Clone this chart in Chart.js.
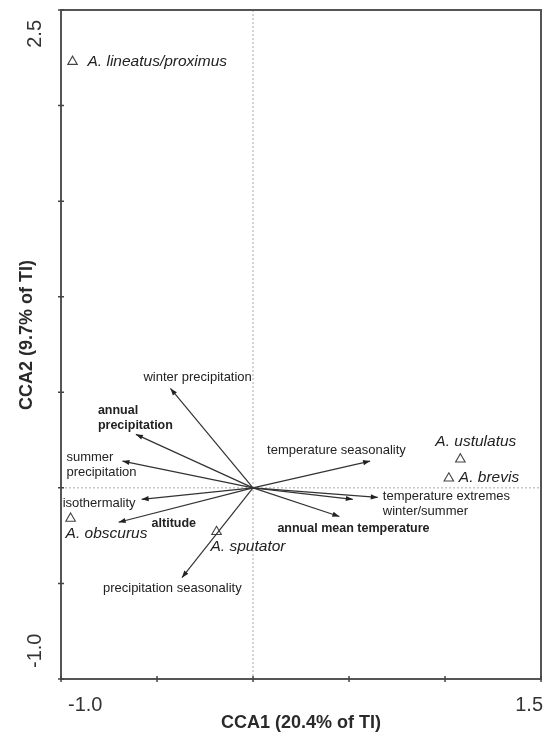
<!DOCTYPE html>
<html>
<head>
<meta charset="utf-8">
<script src="https://cdn.jsdelivr.net/npm/chart.js@4.4.1/dist/chart.umd.min.js"></script>
<style>
  html, body { margin: 0; padding: 0; background: #fff; }
  #wrap { width: 553px; height: 736px; }
</style>
</head>
<body>
<div id="wrap"><canvas id="cca"></canvas></div>
<script>
// --- data ---
const speciesNames = ['A. lineatus/proximus', 'A. obscurus', 'A. sputator', 'A. ustulatus', 'A. brevis'];
const speciesX = [-0.94, -0.95, -0.19, 1.08, 1.02];
const speciesY = [2.23, -0.16, -0.23, 0.15, 0.05];

const vectorNames = [
  ['winter precipitation'],
  ['annual', 'precipitation'],
  ['summer', 'precipitation'],
  ['isothermality'],
  ['altitude'],
  ['precipitation seasonality'],
  ['temperature seasonality'],
  ['temperature extremes', 'winter/summer'],
  [],
  ['annual mean temperature']
];
const vectorX = [-0.43, -0.61, -0.68, -0.58, -0.70, -0.37, 0.61, 0.65, 0.52, 0.45];
const vectorY = [0.52, 0.28, 0.14, -0.06, -0.18, -0.47, 0.14, -0.05, -0.06, -0.15];
const vectorBold = [false, true, false, false, true, false, false, false, false, true];

const xTicks = [-1.0, -0.5, 0, 0.5, 1.0, 1.5];
const yTicks = [-1.0, -0.5, 0, 0.5, 1.0, 1.5, 2.0, 2.5];
const xTickLabels = ['-1.0', '', '', '', '', '1.5'];
const yTickLabels = ['-1.0', '', '', '', '', '', '', '2.5'];
const xTitle = 'CCA1 (20.4% of TI)';
const yTitle = 'CCA2 (9.7% of TI)';

// label placement (pixel offsets from the mark)
const vectorLabelOffsets = [[-27, -11], [-38, -24], [-56, -4], [-79, 4], [33, 1], [-79, 11], [-103, -11], [5, -1], [0, 0], [-62, 12]];
const speciesLabelOffsets = [[15, 0], [-5, 15], [-6, 15], [-25, -17], [10, -1]];

const FONT = '"Liberation Sans", Arial, sans-serif';
const INK = '#222';

// one line dataset per environmental vector, from the origin to the tip
const vectorSets = vectorX.map((x, i) => ({
  type: 'line',
  data: [{ x: 0, y: 0 }, { x: x, y: vectorY[i] }],
  borderColor: '#333',
  borderWidth: 1.2,
  pointRadius: 0,
  fill: false
}));

const speciesSet = {
  type: 'scatter',
  data: speciesX.map((x, i) => ({ x: x, y: speciesY[i] })),
  pointStyle: 'triangle',
  pointRadius: 5.5,
  backgroundColor: '#fff',
  borderColor: '#444',
  borderWidth: 1.1
};

// frame, ticks, zero lines, arrowheads and text
const decorations = {
  id: 'decorations',
  beforeDatasetsDraw(chart) {
    const { ctx, chartArea: a, scales: { x, y } } = chart;
    ctx.save();
    ctx.strokeStyle = '#aaa';
    ctx.lineWidth = 1;
    ctx.setLineDash([2, 2]);
    const x0 = x.getPixelForValue(0), y0 = y.getPixelForValue(0);
    ctx.beginPath();
    ctx.moveTo(x0, a.top); ctx.lineTo(x0, a.bottom);
    ctx.moveTo(a.left, y0); ctx.lineTo(a.right, y0);
    ctx.stroke();
    ctx.restore();
  },
  afterDraw(chart) {
    const { ctx, chartArea: a, scales: { x, y } } = chart;
    ctx.save();

    // frame
    ctx.strokeStyle = '#555';
    ctx.lineWidth = 2;
    ctx.strokeRect(a.left, a.top, a.right - a.left, a.bottom - a.top);

    // tick marks crossing the axes
    ctx.lineWidth = 1.5;
    ctx.strokeStyle = '#444';
    ctx.beginPath();
    xTicks.forEach(v => {
      const px = x.getPixelForValue(v);
      ctx.moveTo(px, a.bottom - 3); ctx.lineTo(px, a.bottom + 3);
    });
    yTicks.forEach(v => {
      const py = y.getPixelForValue(v);
      ctx.moveTo(a.left - 3, py); ctx.lineTo(a.left + 3, py);
    });
    ctx.stroke();

    // tick labels (pulled inward like the original)
    ctx.fillStyle = '#333';
    ctx.font = '20px ' + FONT;
    ctx.textBaseline = 'middle';
    xTickLabels.forEach((t, i) => {
      if (!t) return;
      const px = x.getPixelForValue(xTicks[i]);
      ctx.textAlign = i === 0 ? 'left' : 'right';
      ctx.fillText(t, i === 0 ? px + 7 : px + 2, a.bottom + 26);
    });
    yTickLabels.forEach((t, i) => {
      if (!t) return;
      const py = y.getPixelForValue(yTicks[i]);
      ctx.save();
      ctx.translate(a.left - 26, i === 0 ? py - 11 : py + 10);
      ctx.rotate(-Math.PI / 2);
      ctx.textAlign = i === 0 ? 'left' : 'right';
      ctx.fillText(t, 0, 0);
      ctx.restore();
    });

    // axis titles
    ctx.font = 'bold 18px ' + FONT;
    ctx.fillStyle = '#2a2a2a';
    ctx.textAlign = 'center';
    ctx.fillText(xTitle, x.getPixelForValue(0.25), a.bottom + 44);
    ctx.save();
    ctx.translate(a.left - 34, y.getPixelForValue(0.80));
    ctx.rotate(-Math.PI / 2);
    ctx.fillText(yTitle, 0, 0);
    ctx.restore();

    // arrowheads
    ctx.fillStyle = '#222';
    vectorX.forEach((vx, i) => {
      const ox = x.getPixelForValue(0), oy = y.getPixelForValue(0);
      const tx = x.getPixelForValue(vx), ty = y.getPixelForValue(vectorY[i]);
      const ang = Math.atan2(ty - oy, tx - ox);
      const L = 7, W = 2.6;
      ctx.beginPath();
      ctx.moveTo(tx, ty);
      ctx.lineTo(tx - L * Math.cos(ang) + W * Math.sin(ang), ty - L * Math.sin(ang) - W * Math.cos(ang));
      ctx.lineTo(tx - L * Math.cos(ang) - W * Math.sin(ang), ty - L * Math.sin(ang) + W * Math.cos(ang));
      ctx.closePath();
      ctx.fill();
    });

    // vector labels
    ctx.textAlign = 'left';
    ctx.textBaseline = 'middle';
    ctx.fillStyle = INK;
    vectorNames.forEach((lines, i) => {
      if (!lines.length) return;
      ctx.font = (vectorBold[i] ? 'bold 12.5px ' : '13px ') + FONT;
      const tx = x.getPixelForValue(vectorX[i]) + vectorLabelOffsets[i][0];
      const ty = y.getPixelForValue(vectorY[i]) + vectorLabelOffsets[i][1];
      lines.forEach((ln, k) => ctx.fillText(ln, tx, ty + k * 15));
    });

    // species labels
    ctx.font = 'italic 15.5px ' + FONT;
    speciesNames.forEach((n, i) => {
      const tx = x.getPixelForValue(speciesX[i]) + speciesLabelOffsets[i][0];
      const ty = y.getPixelForValue(speciesY[i]) + speciesLabelOffsets[i][1];
      ctx.fillText(n, tx, ty);
    });

    ctx.restore();
  }
};

new Chart(document.getElementById('cca'), {
  data: { datasets: [...vectorSets, speciesSet] },
  options: {
    responsive: true,
    maintainAspectRatio: false,
    animation: false,
    layout: { padding: { left: 61, right: 12, top: 10, bottom: 57 } },
    plugins: { legend: { display: false }, tooltip: { enabled: false } },
    scales: {
      x: { type: 'linear', min: -1.0, max: 1.5, display: false },
      y: { type: 'linear', min: -1.0, max: 2.5, display: false }
    }
  },
  plugins: [decorations]
});
</script>
</body>
</html>
